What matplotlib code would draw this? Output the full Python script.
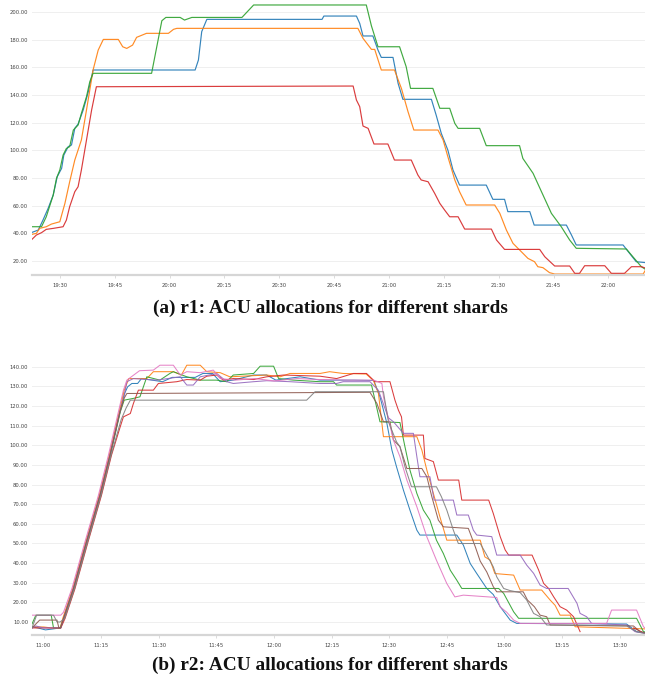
import numpy as np
import matplotlib
matplotlib.use('Agg')
import matplotlib.pyplot as plt

plt.rcParams['font.family'] = ['DejaVu Sans']

# ---------------- r1 (minutes after 19:00) ----------------
r1_ticks = [30, 45, 60, 75, 90, 105, 120, 135, 150, 165, 180]
r1_tick_labels = ['19:30', '19:45', '20:00', '20:15', '20:30', '20:45',
                  '21:00', '21:15', '21:30', '21:45', '22:00']
r1_yticks = [20, 40, 60, 80, 100, 120, 140, 160, 180, 200]

r1_blue_t = [22.4, 24.1, 25.4, 26.8, 28.2, 29.3, 30.5, 31.1, 32.3, 33.2, 34.1, 35.0, 36.4,
             37.8, 39.1, 67.0, 67.9, 68.8, 70.2, 101.7, 102.2, 111.1, 112.0, 112.9, 115.6,
             117.0, 117.9, 121.1, 122.5, 123.8, 131.6, 132.9, 134.3, 136.1, 137.5, 139.3,
             146.6, 148.4, 151.6, 152.5, 158.5, 159.7, 168.5, 169.9, 171.2, 184.0, 185.8,
             187.6, 190.4]
r1_blue_v = [40.7, 42.4, 49.6, 58.0, 67.7, 81.0, 87.0, 96.6, 102.7, 103.9, 115.9, 119.0, 129.2,
             142.4, 158.1, 158.1, 165.3, 185.8, 194.7, 194.7, 197.1, 197.1, 191.8, 182.7, 182.7,
             172.5, 167.2, 167.2, 148.4, 136.9, 136.9, 125.5, 112.3, 100.2, 85.8, 74.9,
             74.9, 64.6, 64.6, 55.7, 55.7, 46.0, 46.0, 38.8, 31.6, 31.6, 25.5,
             19.5, 18.8]

r1_orange_t = [22.4, 23.6, 24.5, 26.3, 27.7, 30.0, 31.4, 32.7, 34.1, 35.9, 37.3, 39.1, 40.5,
               41.9, 46.0, 47.2, 48.3, 49.9, 51.0, 53.7, 59.7, 61.1, 62.0, 111.5, 112.9,
               115.2, 116.1, 117.9, 121.5, 123.4, 125.2, 126.8, 133.4, 134.8, 136.1, 138.0,
               139.3, 141.1, 148.9, 150.3, 152.1, 153.9, 156.2, 158.0, 159.8, 160.7, 162.1,
               163.9, 165.3, 189.5, 190.4]
r1_orange_v = [39.3, 40.0, 43.6, 44.8, 46.7, 48.4, 61.7, 77.3, 93.0, 107.5, 129.2, 158.1, 172.5,
               180.2, 180.2, 174.9, 173.7, 176.1, 181.7, 184.6, 184.6, 187.5, 188.2, 188.2, 181.0,
               173.0, 173.0, 158.1, 158.1, 144.8, 128.0, 114.7, 114.7, 107.5, 95.4, 78.6,
               70.1, 60.5, 60.5, 54.5, 42.4, 32.8, 26.7, 21.9, 19.5, 15.9, 15.2,
               11.6, 10.6, 10.6, 14.7]

r1_green_t = [22.4, 25.0, 26.3, 28.2, 29.1, 30.0, 30.9, 31.8, 32.7, 33.7, 35.0, 35.9, 37.3,
              38.2, 39.1, 55.1, 57.9, 59.0, 62.9, 64.1, 66.1, 79.8, 83.0, 113.8, 115.2,
              117.0, 122.9, 124.7, 125.9, 132.0, 133.9, 136.6, 138.0, 138.9, 144.8, 146.6,
              155.7, 156.6, 159.4, 161.7, 164.4, 167.1, 169.4, 171.2, 184.9, 186.3, 189.0,
              190.4]
r1_green_v = [44.8, 44.8, 52.0, 67.7, 79.8, 85.8, 96.6, 101.4, 102.7, 114.7, 118.3, 126.7, 138.8,
              149.6, 155.7, 155.7, 193.7, 196.1, 196.1, 194.2, 196.1, 196.1, 205.1, 205.1, 190.0,
              174.9, 174.9, 160.5, 144.8, 144.8, 130.4, 130.4, 119.5, 115.9, 115.9, 103.4,
              103.4, 94.2, 83.4, 70.1, 54.5, 44.8, 35.2, 29.2, 28.7, 24.3, 15.9,
              13.5]

r1_red_t = [22.4, 23.6, 25.0, 26.3, 28.2, 30.9, 31.8, 32.7, 34.1, 35.0, 35.9, 37.3, 38.7,
            40.0, 110.2, 111.1, 112.0, 112.9, 114.3, 115.9, 119.7, 121.5, 126.1, 127.9,
            128.8, 130.7, 132.5, 133.9, 135.2, 136.6, 138.9, 140.7, 148.0, 149.4, 151.6,
            161.2, 162.6, 165.3, 169.4, 170.8, 172.1, 173.5, 179.0, 180.8, 184.4, 186.3,
            189.0, 190.4]
r1_red_v = [35.7, 38.8, 40.5, 42.9, 43.6, 44.8, 49.6, 59.3, 70.1, 73.7, 85.8, 107.5, 129.2,
            146.0, 146.5, 136.4, 131.6, 117.6, 115.9, 104.6, 104.6, 93.0, 93.0, 82.2,
            78.6, 77.3, 68.9, 61.7, 56.9, 52.0, 52.0, 43.1, 43.1, 35.2, 28.4,
            28.4, 23.1, 16.4, 16.4, 11.1, 11.1, 16.6, 16.6, 11.1, 11.1, 15.9,
            15.9, 14.7]

# ---------------- r2 (minutes after 11:00) ----------------
r2_ticks = [0, 15, 30, 45, 60, 75, 90, 105, 120, 135, 150]
r2_tick_labels = ['11:00', '11:15', '11:30', '11:45', '12:00', '12:15',
                  '12:30', '12:45', '13:00', '13:15', '13:30']
r2_yticks = [10, 20, 30, 40, 50, 60, 70, 80, 90, 100, 110, 120, 130, 140]

r2_blue_t = [-3.0, -1.5, 0.5, 2.5, 4.3, 5.2, 7.8, 11.2, 14.7, 17.3, 19.9, 21.0, 21.9, 23.0,
             24.5, 25.5, 31.0, 33.5, 39.5, 41.5, 44.0, 46.0, 49.4, 54.7, 58.1, 60.5, 66.8,
             72.0, 80.7, 86.0, 87.6, 89.4, 90.7, 91.9, 93.7, 95.4, 97.2, 98.0, 107.6, 109.3,
             111.1, 112.8, 115.4, 117.1, 118.9, 121.5, 123.2, 151.8, 154.4, 156.6]
r2_blue_v = [7.5, 7.0, 6.0, 6.5, 7.0, 11.8, 27.1, 50.9, 74.6, 95.0, 117.1, 126.0, 129.8, 131.5,
             131.5, 134.0, 132.4, 134.6, 134.6, 136.6, 136.6, 132.4, 133.2, 135.8, 135.8, 133.2, 134.9,
             133.2, 133.2, 133.0, 124.7, 111.2, 97.6, 89.1, 77.2, 67.0, 56.8, 54.3, 54.3, 49.2,
             39.8, 34.7, 27.1, 24.0, 17.8, 11.0, 9.3, 9.0, 5.1, 4.5]

r2_orange_t = [-3.0, 0.0, 2.0, 4.3, 5.0, 7.6, 11.0, 14.5, 17.1, 19.7, 21.0, 22.2, 26.9, 28.6,
               33.8, 35.9, 37.3, 40.8, 42.5, 46.0, 48.5, 58.1, 61.6, 64.2, 72.0, 74.5, 78.0,
               84.0, 85.9, 87.2, 88.5, 97.2, 98.5, 99.8, 101.5, 103.2, 105.0, 113.7, 114.9,
               116.3, 117.5, 122.4, 124.1, 129.7, 131.9, 133.2, 134.5, 137.1, 138.4, 156.6]
r2_orange_v = [7.5, 7.5, 7.0, 6.8, 11.8, 27.1, 50.9, 74.6, 95.0, 117.1, 128.0, 134.0, 134.0, 137.5,
               137.5, 135.8, 140.8, 140.8, 137.5, 137.0, 134.9, 135.8, 134.9, 136.6, 136.6, 137.5, 136.6,
               136.3, 133.0, 126.4, 104.4, 104.4, 97.6, 87.4, 75.5, 63.6, 51.7, 51.7, 43.2,
               41.5, 34.7, 33.9, 26.3, 26.3, 21.2, 18.5, 13.5, 13.5, 7.6, 6.5]

r2_green_t = [-3.0, -2.0, 2.0, 2.6, 4.4, 5.3, 7.9, 11.3, 14.8, 17.4, 20.0, 21.0, 23.4, 25.1,
              26.9, 30.3, 32.9, 33.8, 37.3, 40.8, 45.0, 47.7, 49.4, 54.7, 56.4, 59.9, 61.2,
              65.1, 72.0, 75.5, 76.3, 85.4, 87.6, 92.8, 94.1, 95.4, 97.2, 98.9, 100.6, 102.3,
              104.1, 105.9, 107.6, 108.9, 118.5, 119.8, 122.4, 123.7, 154.4, 156.2, 156.6]
r2_green_v = [9.0, 13.5, 13.5, 7.0, 7.0, 11.8, 27.1, 50.9, 74.6, 95.0, 117.1, 123.0, 123.9, 124.7,
              134.9, 133.2, 136.6, 137.5, 134.9, 133.2, 133.2, 132.4, 135.8, 136.6, 140.3, 140.3, 134.0,
              133.2, 132.4, 132.4, 130.7, 130.7, 112.0, 111.6, 99.3, 87.4, 75.5, 67.0, 61.9, 51.7,
              44.9, 36.4, 31.3, 27.1, 27.1, 24.6, 15.2, 11.9, 11.9, 5.1, 5.0]

r2_red_t = [-3.0, 4.5, 5.6, 8.2, 11.6, 15.1, 17.7, 19.9, 20.8, 22.6, 23.4, 24.7, 28.6, 29.9,
            34.7, 37.3, 40.8, 42.5, 45.1, 46.8, 49.4, 54.7, 58.1, 62.5, 72.0, 76.3, 80.7,
            84.1, 86.3, 90.2, 91.5, 92.4, 93.2, 93.7, 98.9, 99.3, 101.5, 102.8, 108.1, 108.9,
            115.9, 117.1, 118.9, 120.2, 121.1, 127.2, 128.9, 130.2, 131.5, 132.8, 134.5, 136.2,
            138.0, 139.7, 146.0, 153.6, 156.6]
r2_red_v = [7.0, 7.0, 11.8, 27.1, 50.9, 74.6, 95.0, 109.0, 114.5, 116.2, 121.3, 128.1, 128.1, 131.5,
            132.4, 133.5, 133.2, 135.2, 135.8, 133.2, 134.0, 133.5, 134.9, 135.8, 135.2, 134.0, 136.6,
            136.6, 132.4, 132.4, 123.0, 117.9, 114.5, 105.2, 105.2, 93.3, 91.7, 82.3, 82.3, 72.1,
            72.1, 65.3, 53.5, 46.7, 44.1, 44.1, 36.5, 29.7, 27.1, 22.9, 17.8, 16.1,
            12.7, 5.1, np.nan, 7.0, 4.2]

r2_purple_t = [-3.0, -2.0, 0.0, 4.5, 5.2, 7.8, 11.2, 14.7, 17.3, 19.9, 21.0, 21.7, 23.4, 29.5,
               35.6, 37.3, 39.0, 40.8, 45.1, 47.7, 49.4, 54.7, 58.1, 64.2, 72.0, 76.3, 78.0,
               85.0, 87.2, 88.9, 89.8, 91.1, 93.7, 96.3, 97.2, 98.0, 100.6, 101.7, 106.7, 107.6,
               110.6, 111.9, 112.8, 116.7, 118.0, 124.1, 125.8, 127.6, 129.3, 131.0, 136.6, 138.9,
               139.7, 141.4, 142.7, 151.8, 154.0, 156.6]
r2_purple_v = [7.0, 8.0, 7.0, 7.0, 11.8, 27.1, 50.9, 74.6, 95.0, 117.1, 125.0, 132.4, 134.0, 133.2,
               134.9, 130.7, 130.7, 134.9, 136.6, 132.4, 131.5, 132.4, 132.9, 132.4, 131.5, 131.5, 132.4,
               132.4, 128.0, 118.8, 114.0, 112.0, 106.1, 106.1, 94.2, 84.0, 84.0, 72.1, 72.1, 64.5,
               64.5, 56.8, 54.3, 53.5, 44.1, 44.1, 39.0, 34.8, 28.8, 27.1, 27.1, 19.5,
               14.4, 12.7, 9.3, 8.5, 5.1, 4.2]

r2_brown_t = [-3.0, -1.0, 3.5, 4.0, 4.5, 5.2, 7.8, 11.2, 14.7, 17.3, 19.9, 21.0, 21.7, 85.0,
              86.8, 88.5, 90.2, 91.1, 92.8, 94.6, 98.5, 99.8, 101.1, 102.8, 104.1, 110.6, 112.4,
              113.7, 115.4, 117.1, 118.0, 124.9, 126.0, 127.8, 129.3, 131.0, 131.9, 153.6, 155.3,
              156.6]
r2_brown_v = [7.0, 11.0, 11.0, 7.0, 7.0, 11.8, 27.1, 50.9, 74.6, 95.0, 117.1, 124.0, 126.4, 127.0,
              121.3, 112.0, 112.0, 102.7, 99.3, 88.2, 88.2, 84.0, 73.8, 61.9, 58.5, 57.7, 48.4,
              41.0, 35.5, 28.0, 25.4, 25.4, 21.2, 17.8, 13.5, 12.7, 8.5, 8.0, 5.1,
              4.5]

r2_pink_t = [-3.0, 4.5, 5.2, 7.4, 10.8, 14.3, 16.9, 19.5, 20.8, 21.7, 25.0, 28.6, 30.3, 33.8,
             35.6, 37.3, 40.8, 44.2, 46.0, 50.0, 55.0, 60.0, 66.0, 72.0, 80.0, 86.0, 88.1,
             88.5, 91.1, 92.8, 94.6, 97.2, 99.8, 102.3, 105.0, 107.1, 109.3, 118.0, 118.9,
             120.6, 122.4, 124.1, 146.6, 147.9, 154.4, 156.2, 156.6]
r2_pink_v = [13.5, 13.5, 15.0, 27.1, 50.9, 74.6, 95.0, 117.1, 128.0, 133.2, 138.0, 138.3, 140.8, 140.8,
             135.8, 137.5, 137.0, 138.3, 134.0, 133.2, 134.0, 132.8, 134.0, 133.5, 133.2, 133.2, 131.5,
             124.7, 102.6, 94.2, 82.3, 68.7, 53.4, 41.5, 29.6, 22.8, 23.7, 22.5, 17.7,
             15.0, 11.0, 9.3, 9.3, 16.1, 16.1, 7.6, 7.0]

r2_gray_t = [-3.0, -1.8, 2.6, 3.5, 4.3, 5.5, 8.1, 11.5, 15.0, 17.6, 20.2, 21.5, 22.6, 68.5,
             70.7, 88.5, 89.8, 91.9, 92.8, 94.1, 95.8, 102.3, 103.6, 105.0, 106.7, 108.0,
             113.7, 115.4, 117.1, 118.0, 119.8, 121.5, 124.1, 125.8, 127.6, 129.3, 131.0,
             151.8, 154.4, 156.6]
r2_gray_v = [7.0, 13.5, 13.5, 10.1, 10.0, 11.8, 27.1, 50.9, 74.6, 95.0, 113.0, 119.0, 123.0, 123.0,
             127.3, 127.3, 112.0, 101.8, 99.3, 89.1, 78.9, 78.9, 73.8, 67.0, 56.8, 50.0,
             50.0, 44.1, 38.1, 33.0, 27.1, 26.0, 25.0, 21.2, 14.4, 12.7, 8.5,
             8.0, 5.1, 4.2]

COLORS = {'blue': '#1f77b4', 'orange': '#ff7f0e', 'green': '#2ca02c', 'red': '#d62728',
          'purple': '#9467bd', 'brown': '#8c564b', 'pink': '#e377c2', 'gray': '#7f7f7f'}


def style_axes(ax, xticks, xlabels, yticks):
    for s in ['top', 'right', 'left']:
        ax.spines[s].set_visible(False)
    ax.spines['bottom'].set_color('#d6d6d6')
    ax.spines['bottom'].set_linewidth(1.6)
    ax.set_xticks(xticks)
    ax.set_xticklabels(xlabels)
    ax.set_yticks(yticks)
    ax.set_yticklabels([f'{y:.2f}' for y in yticks])
    ax.tick_params(axis='y', length=0, pad=2.8, labelsize=3.8, labelcolor='#444444')
    ax.tick_params(axis='x', length=2, width=0.6, color='#d6d6d6', pad=4,
                   labelsize=3.8, labelcolor='#444444')
    ax.grid(axis='y', color='#efefef', linewidth=0.7)
    ax.set_axisbelow(True)


fig = plt.figure(figsize=(6.45, 6.82), dpi=100)

# --- top chart ---
ax1 = fig.add_axes([32 / 645, 1 - 275 / 682, 613 / 645, 275 / 682])
for name, t, v in [('blue', r1_blue_t, r1_blue_v), ('orange', r1_orange_t, r1_orange_v),
                   ('green', r1_green_t, r1_green_v), ('red', r1_red_t, r1_red_v)]:
    ax1.plot(t, v, color=COLORS[name], linewidth=0.85, alpha=0.9)
ax1.set_xlim(22.4, 190.0)
ax1.set_ylim(9.9, 208.7)
style_axes(ax1, r1_ticks, r1_tick_labels, r1_yticks)

# --- bottom chart ---
ax2 = fig.add_axes([32 / 645, 1 - 635 / 682, 613 / 645, 280 / 682])
for name, t, v in [('blue', r2_blue_t, r2_blue_v), ('orange', r2_orange_t, r2_orange_v),
                   ('green', r2_green_t, r2_green_v), ('red', r2_red_t, r2_red_v),
                   ('purple', r2_purple_t, r2_purple_v), ('brown', r2_brown_t, r2_brown_v),
                   ('pink', r2_pink_t, r2_pink_v), ('gray', r2_gray_t, r2_gray_v)]:
    ax2.plot(t, v, color=COLORS[name], linewidth=0.75, alpha=0.9)
ax2.set_xlim(-3.0, 156.6)
ax2.set_ylim(3.4, 146.0)
style_axes(ax2, r2_ticks, r2_tick_labels, r2_yticks)

# captions
cap_font = dict(family='Liberation Serif', fontweight='bold', fontsize=13.9, color='#111111')
fig.text(330 / 645, 1 - 308 / 682, '(a) r1: ACU allocations for different shards',
         ha='center', va='center', **cap_font)
fig.text(330 / 645, 1 - 665 / 682, '(b) r2: ACU allocations for different shards',
         ha='center', va='center', **cap_font)

fig.savefig('out.png', dpi=100)
